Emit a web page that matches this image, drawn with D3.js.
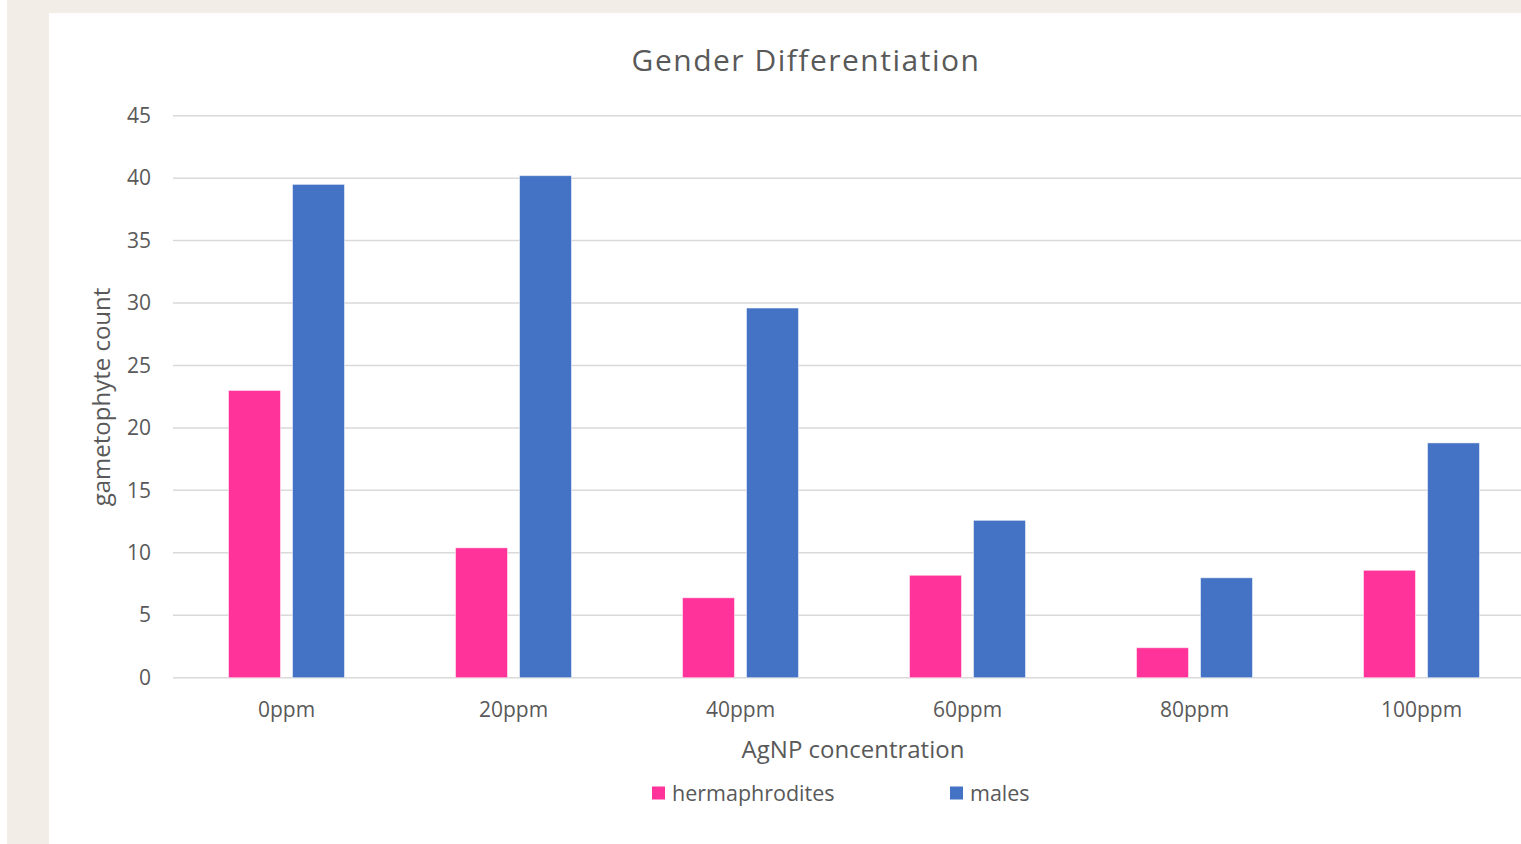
<!DOCTYPE html>
<html>
<head>
<meta charset="utf-8">
<script src="https://cdn.jsdelivr.net/npm/d3@7"></script>
<style>
    body { margin: 0; background: #ffffff; overflow: hidden; }
    svg { display: block; font-family: "Open Sans", "Noto Sans", sans-serif; }
</style>
</head>
<body>
<div id="chart"></div>
<script>
// chart data
const categories = ["0ppm", "20ppm", "40ppm", "60ppm", "80ppm", "100ppm"];
const seriesNames = ["hermaphrodites", "males"];
const hermaphrodites = [23, 10.4, 6.4, 8.2, 2.4, 8.6];
const males = [39.5, 40.2, 29.6, 12.6, 8.0, 18.8];
const yTicks = [0, 5, 10, 15, 20, 25, 30, 35, 40, 45];
const colors = ["#ff3399", "#4472c4"];

const W = 1521, H = 844;
const textColor = "#595959";

let svg = d3.select("#chart").append("svg")
    .attr("width", W)
    .attr("height", H);

// page background and white chart panel
svg.append("rect")
    .attr("x", 7).attr("y", 0)
    .attr("width", W - 7).attr("height", H)
    .attr("fill", "#f2ede6");
svg.append("rect")
    .attr("x", 49).attr("y", 13)
    .attr("width", W - 49).attr("height", H - 13)
    .attr("fill", "#ffffff");

// plot area (runs past the right edge of the window, like the reference)
let plot = {left: 173, top: 115.7, width: 1362, height: 562};

let x0 = d3.scaleBand()
    .domain(categories)
    .range([plot.left, plot.left + plot.width]);

let outer = x0.bandwidth() * 0.2445;
let x1 = d3.scaleBand()
    .domain(seriesNames)
    .range([outer, x0.bandwidth() - outer])
    .paddingInner(0.1875);

let y = d3.scaleLinear()
    .domain([0, 45])
    .range([plot.top + plot.height, plot.top]);

// gridlines
svg.append("g")
    .attr("class", "grid")
    .selectAll("line")
    .data(yTicks)
    .join("line")
    .attr("x1", plot.left)
    .attr("x2", W)
    .attr("y1", d => y(d))
    .attr("y2", d => y(d))
    .attr("stroke", "#d9d9d9")
    .attr("stroke-width", 1.5);

// y axis labels
let yAxis = svg.append("g")
    .attr("class", "y-axis")
    .attr("transform", "translate(" + (plot.left - 22) + ",0)")
    .call(d3.axisLeft(y).tickValues(yTicks).tickSize(0).tickPadding(0));
yAxis.select(".domain").remove();
yAxis.selectAll("text")
    .attr("fill", textColor)
    .style("font-size", "21px")
    .style("font-family", "'Open Sans', sans-serif");

// bars
let data = categories.map((c, i) => ({cat: c, values: [hermaphrodites[i], males[i]]}));

let groups = svg.append("g")
    .selectAll("g")
    .data(data)
    .join("g")
    .attr("transform", d => "translate(" + x0(d.cat) + ",0)");

groups.selectAll("rect")
    .data(d => d.values.map((v, j) => ({name: seriesNames[j], value: v, color: colors[j]})))
    .join("rect")
    .attr("x", d => x1(d.name))
    .attr("width", x1.bandwidth())
    .attr("y", d => y(d.value))
    .attr("height", d => y(0) - y(d.value))
    .attr("fill", d => d.color)
    .attr("stroke", "#ffffff")
    .attr("stroke-opacity", 0.5)
    .attr("stroke-width", 1);

// x axis labels
let xAxis = svg.append("g")
    .attr("class", "x-axis")
    .attr("transform", "translate(0," + (y(0) + 24) + ")")
    .call(d3.axisBottom(x0).tickSize(0).tickPadding(0));
xAxis.select(".domain").remove();
xAxis.selectAll("text")
    .attr("fill", textColor)
    .attr("dy", "0.71em")
    .style("font-size", "21px")
    .style("font-family", "'Open Sans', sans-serif");

// title
svg.append("text")
    .attr("x", 806)
    .attr("y", 60)
    .attr("dy", "0.35em")
    .attr("text-anchor", "middle")
    .attr("fill", textColor)
    .style("font-size", "30px")
    .style("letter-spacing", "1.5px")
    .text("Gender Differentiation");

// axis titles
svg.append("text")
    .attr("x", 853)
    .attr("y", 750)
    .attr("dy", "0.35em")
    .attr("text-anchor", "middle")
    .attr("fill", textColor)
    .style("font-size", "24px")
    .text("AgNP concentration");

svg.append("text")
    .attr("transform", "translate(102," + 397 + ") rotate(-90)")
    .attr("dy", "0.35em")
    .attr("text-anchor", "middle")
    .attr("fill", textColor)
    .style("font-size", "24px")
    .text("gametophyte count");

// legend
let legendX = [652, 950];
let legend = svg.append("g")
    .selectAll("g")
    .data(seriesNames)
    .join("g")
    .attr("transform", (d, i) => "translate(" + legendX[i] + ",793)");

legend.append("rect")
    .attr("x", 0)
    .attr("y", -6.5)
    .attr("width", 13)
    .attr("height", 13)
    .attr("fill", (d, i) => colors[i]);

legend.append("text")
    .attr("x", 20)
    .attr("dy", "0.35em")
    .attr("fill", textColor)
    .style("font-size", "21.5px")
    .text(d => d);
</script>
</body>
</html>
